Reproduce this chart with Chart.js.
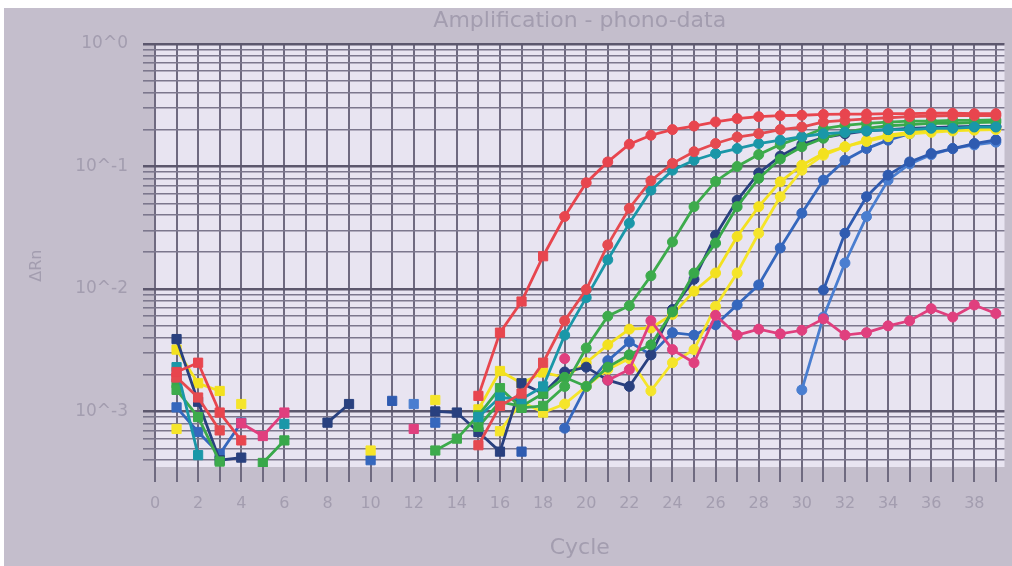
<!DOCTYPE html>
<html>
<head>
<meta charset="utf-8">
<script src="https://cdn.jsdelivr.net/npm/chart.js@4.4.1/dist/chart.umd.min.js"></script>
<style>
    html, body { margin: 0; padding: 0; background: #fff; }
    #wrap { position: absolute; left: 4px; top: 8px; width: 1008px; height: 558px; background: #c4becc; }
</style>
</head>
<body>
<div id="wrap"><canvas id="myChart"></canvas></div>
<script>
// cycles 1..39
const cycles = [1,2,3,4,5,6,7,8,9,10,11,12,13,14,15,16,17,18,19,20,21,22,23,24,25,26,27,28,29,30,31,32,33,34,35,36,37,38,39];

// delta Rn per well, null = not plotted (<= 0 on log scale)
const redA = [0.0021,0.0025,0.00098,0.00058,null,null,null,null,null,null,
    null,null,null,null,0.00134,0.0044,0.0079,0.0185,0.039,0.0737,
    0.109,0.152,0.18,0.2,0.214,0.231,0.246,0.255,0.26,0.262,
    0.266,0.268,0.268,0.27,0.27,0.272,0.272,0.27,0.27];
const redB = [0.0019,0.0013,0.0007,null,null,null,null,null,null,null,
    null,null,null,null,0.00053,0.00111,0.0014,0.0025,0.0055,0.0099,
    0.0229,0.0456,0.0765,0.106,0.132,0.154,0.174,0.185,0.2,0.21,
    0.231,0.238,0.245,0.25,0.255,0.258,0.26,0.26,0.26];
const teal = [0.0023,0.00044,null,null,null,0.00079,null,null,null,null,
    null,null,null,null,0.0009,0.0013,0.00126,0.0016,0.0042,0.0085,
    0.0173,0.0344,0.0641,0.0933,0.1125,0.1276,0.14,0.154,0.164,0.175,
    0.185,0.19,0.195,0.2,0.2,0.205,0.205,0.21,0.21];
const green1 = [0.0015,0.0009,0.00039,null,null,null,null,null,null,null,
    null,null,0.00048,0.0006,0.00093,0.00155,0.00107,0.00111,0.0016,0.0033,
    0.006,0.0073,0.0128,0.0242,0.047,0.0755,0.1,0.125,0.151,0.174,
    0.204,0.217,0.225,0.23,0.235,0.235,0.238,0.238,0.24];
const green2 = [0.0017,null,null,null,0.00038,0.00058,null,null,null,null,
    null,null,null,null,0.00075,0.0012,0.0011,0.0014,0.0019,0.0016,
    0.0023,0.0029,0.0035,0.0065,0.0135,0.0237,0.047,0.08,0.115,0.145,
    0.17,0.19,0.205,0.215,0.22,0.225,0.225,0.228,0.23];
const navy = [0.0039,0.0012,0.0004,0.00042,null,null,null,0.00081,0.00115,null,
    null,null,0.001,0.00098,0.00068,0.00047,0.0017,0.0014,0.0021,0.0023,
    0.0018,0.0016,0.0029,0.0068,0.012,0.0275,0.053,0.0885,0.1215,0.151,
    0.172,0.185,0.195,0.2,0.205,0.208,0.21,0.212,0.212];
const yellow1 = [0.0032,0.0017,0.00147,null,null,null,null,null,null,null,
    null,null,null,null,0.00104,0.00214,0.0017,0.00208,0.0019,0.0025,
    0.0035,0.0047,0.0048,0.0062,0.0096,0.0135,0.0268,0.047,0.075,0.1025,
    0.128,0.1445,0.164,0.18,0.19,0.195,0.2,0.2,0.205];
const yellow2 = [0.00072,null,null,0.00115,null,null,null,null,null,0.00048,
    null,null,0.00124,null,null,0.00069,0.0012,0.00098,0.00115,0.0016,
    0.0022,0.0027,0.00147,0.0025,0.0032,0.0072,0.0135,0.0285,0.0567,0.0933,
    0.1236,0.145,0.16,0.175,0.185,0.19,0.195,0.198,0.2];
const blueMed = [0.00108,0.00068,0.00045,0.00081,null,null,null,null,null,0.0004,
    null,null,0.00081,null,null,null,null,null,0.00073,0.0016,
    0.0026,0.0037,0.0029,0.0044,0.0042,0.0051,0.0074,0.0108,0.0216,0.0415,
    0.0774,0.1125,0.14,0.164,0.185,0.198,0.205,0.21,0.212];
const blueL1 = [null,null,null,null,null,null,null,null,null,null,
    0.00122,null,null,null,null,null,0.00047,null,null,null,
    null,null,null,null,null,null,null,null,null,null,
    0.0098,0.0285,0.0567,0.085,0.109,0.1276,0.14,0.154,0.165];
const blueL2 = [null,null,null,null,null,null,null,null,null,null,
    null,0.00115,null,null,null,null,null,null,null,null,
    null,null,null,null,null,null,null,null,null,0.0015,
    0.0059,0.0163,0.039,0.0774,0.105,0.125,0.14,0.15,0.158];
const magenta = [0.0019,null,null,0.0008,0.00063,0.00098,null,null,null,null,
    null,0.00072,null,null,null,null,null,null,0.0027,null,
    0.0018,0.0022,0.0055,0.0032,0.0025,0.0061,0.0042,0.0047,0.0043,0.0046,
    0.0057,0.0042,0.0044,0.005,0.0055,0.0069,0.0059,0.0074,0.0063];

// log grid: 1..9 x each decade
const yDecades = [0.0001, 0.001, 0.01, 0.1, 1];
const yMin = 0.000352;
const yMax = 1;

const yTicks = [];
yDecades.forEach(d => {
    for (let m = 1; m <= 9; m++) {
        const v = +(d * m).toPrecision(3);
        if (v >= yMin && v <= yMax) yTicks.push(v);
    }
});

const isDecade = v => Math.abs(Math.log10(v) - Math.round(Math.log10(v))) < 1e-6;

const textColor = '#a39daf';
const fontFamily = "'DejaVu Sans', sans-serif";

function makeSet(label, values, color) {
    return {
        label: label,
        borderColor: color,
        backgroundColor: color,
        data: cycles.map((c, i) => ({ x: c, y: values[i] })),
        borderWidth: 2.8,
        pointStyle: ctx => (ctx.raw && ctx.raw.x <= 18 ? 'rect' : 'circle'),
        pointRadius: ctx => (ctx.raw && ctx.raw.x <= 18 ? 6.5 : 5),
        pointBorderWidth: 1,
        spanGaps: false,
        tension: 0
    };
}

// light plot area behind the grid
const plotBg = {
    id: 'plotBg',
    beforeDraw(chart) {
        const { ctx, chartArea: a } = chart;
        ctx.save();
        ctx.fillStyle = '#e8e4f1';
        ctx.fillRect(a.left, a.top, a.right - a.left, a.bottom - a.top);
        ctx.restore();
    }
};

const ctx = document.getElementById('myChart');
const chart = new Chart(ctx, {
    type: 'line',
    data: {
        datasets: [
            makeSet('A1', redA, '#e8454e'),
            makeSet('A2', redB, '#e54a50'),
            makeSet('A3', teal, '#1a97a8'),
            makeSet('A4', magenta, '#e03f7e'),
            makeSet('A5', green1, '#3dab4c'),
            makeSet('A6', green2, '#38a84a'),
            makeSet('A7', navy, '#29407f'),
            makeSet('A8', yellow1, '#f3e11f'),
            makeSet('A9', yellow2, '#f5e52a'),
            makeSet('A10', blueMed, '#3567bd'),
            makeSet('A11', blueL1, '#2f5bb0'),
            makeSet('A12', blueL2, '#4a7ed0')
        ]
    },
    options: {
        responsive: true,
        maintainAspectRatio: false,
        animation: false,
        layout: { padding: { left: 0, right: 4, top: 0, bottom: 0 } },
        plugins: {
            legend: { display: false },
            tooltip: { enabled: false },
            title: {
                display: true,
                text: 'Amplification - phono-data',
                fullSize: false,
                color: textColor,
                font: { family: fontFamily, size: 22, weight: 'normal' },
                padding: { top: 0, bottom: 9.6 }
            }
        },
        scales: {
            x: {
                type: 'linear',
                min: 0,
                max: 39.4,
                border: { display: false },
                grid: { color: '#6f6a80', lineWidth: 2, tickLength: 15 },
                ticks: {
                    stepSize: 1,
                    autoSkip: false,
                    maxRotation: 0,
                    includeBounds: false,
                    padding: 12,
                    color: textColor,
                    font: { family: fontFamily, size: 16 },
                    callback: v => (v % 2 === 0 ? String(v) : '')
                },
                title: {
                    display: true,
                    text: 'Cycle',
                    color: textColor,
                    font: { family: fontFamily, size: 22 },
                    padding: { top: 0, bottom: 5 }
                },
                afterFit: s => { s.height = 99; }
            },
            y: {
                type: 'logarithmic',
                min: yMin,
                max: yMax,
                border: { display: false },
                afterBuildTicks: s => { s.ticks = yTicks.map(v => ({ value: v })); },
                grid: {
                    color: c => (c.tick && isDecade(c.tick.value) ? '#5c576d' : '#7c778d'),
                    lineWidth: c => (c.tick && isDecade(c.tick.value) ? 2.5 : 1.6),
                    tickLength: 12
                },
                ticks: {
                    autoSkip: false,
                    padding: 15,
                    color: textColor,
                    font: { family: fontFamily, size: 17 },
                    callback: v => (isDecade(v) ? '10^' + Math.round(Math.log10(v)) : '')
                },
                title: {
                    display: true,
                    text: 'ΔRn    ',
                    color: textColor,
                    font: { family: fontFamily, size: 16 },
                    padding: { top: 23, bottom: 0 }
                },
                afterFit: s => { s.width = 151; }
            }
        }
    },
    plugins: [plotBg]
});
</script>
</body>
</html>
